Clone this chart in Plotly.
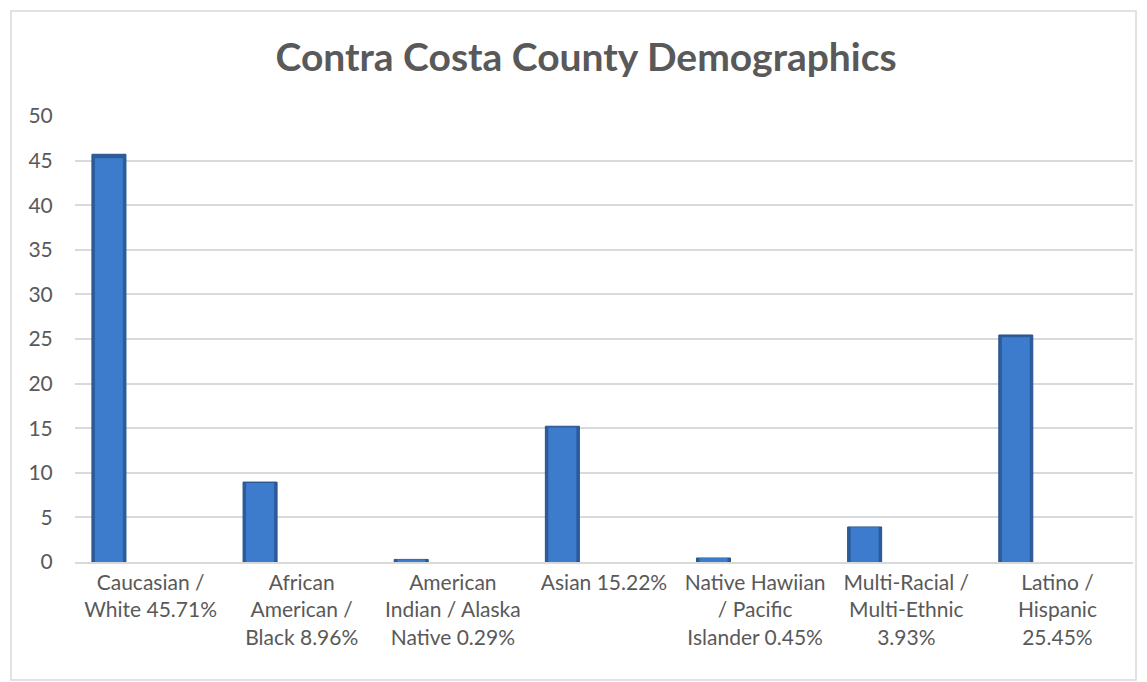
import plotly.graph_objects as go

categories = [
    "Caucasian /<br>White 45.71%",
    "African<br>American /<br>Black 8.96%",
    "American<br>Indian / Alaska<br>Native 0.29%",
    "Asian 15.22%",
    "Native Hawiian<br>/ Pacific<br>Islander 0.45%",
    "Multi-Racial /<br>Multi-Ethnic<br>3.93%",
    "Latino /<br>Hispanic<br>25.45%",
]
values = [45.71, 8.96, 0.29, 15.22, 0.45, 3.93, 25.45]
y_ticks = [0, 5, 10, 15, 20, 25, 30, 35, 40, 45, 50]

W, H = 1147, 682
L, R, T, B = 75, 14, 116, 120
pw, ph = W - L - R, H - T - B

def px(x):
    return (x - L) / pw

def py(y):
    return (H - B - y) / ph

FONT = "Lato"
GREY = "#595959"

fig = go.Figure()
# outer (dark edge) bar
fig.add_trace(go.Bar(
    x=categories, y=values, width=0.225, offset=-0.388,
    marker=dict(color="#2c5c9c", line=dict(color="#27538d", width=1)),
    hoverinfo="x+y", showlegend=False,
))
# inner highlight
fig.add_trace(go.Bar(
    x=categories, y=[v * 0.99 for v in values], width=0.185, offset=-0.368,
    marker=dict(color="#3d7ccc", line=dict(width=0)),
    hoverinfo="skip", showlegend=False,
))

fig.update_layout(
    width=W, height=H,
    margin=dict(l=L, r=R, t=T, b=B),
    paper_bgcolor="white", plot_bgcolor="white",
    barmode="overlay",
    title=dict(text="<b>Contra Costa County Demographics</b>", x=0.511, xanchor="center",
               y=1 - 57 / H, yanchor="middle",
               font=dict(family=FONT, size=39, color=GREY)),
    font=dict(family=FONT, size=21, color=GREY),
    xaxis=dict(showgrid=False, showline=True, linecolor="#d9d9d9", linewidth=1.5,
               ticks="outside", ticklen=1, tickcolor="rgba(0,0,0,0)",
               tickfont=dict(family=FONT, size=21, color=GREY), tickangle=0),
    yaxis=dict(range=[0, 50], tickvals=y_ticks, showgrid=True, gridcolor="#d9d9d9",
               gridwidth=1.5, zeroline=False, showline=False,
               ticks="outside", ticklen=17, tickcolor="rgba(0,0,0,0)",
               tickfont=dict(family=FONT, size=21, color=GREY)),
    shapes=[dict(type="rect", xref="paper", yref="paper",
                 x0=px(11), x1=px(1136), y0=py(680), y1=py(11),
                 line=dict(color="#d9d9d9", width=1.5), fillcolor="rgba(0,0,0,0)",
                 layer="below")],
)

fig.write_html("out.html")
